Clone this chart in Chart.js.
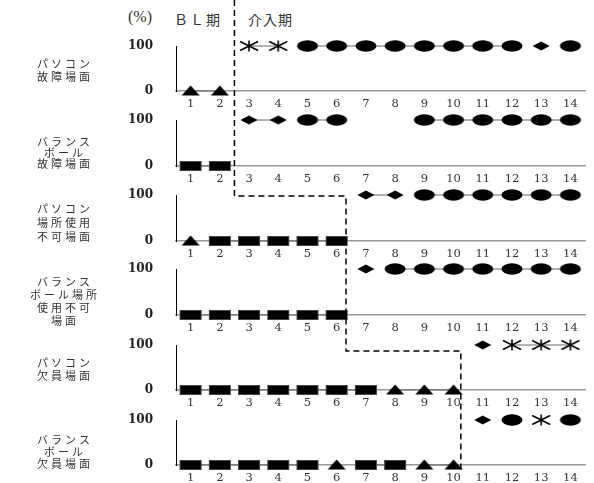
<!DOCTYPE html>
<html>
<head>
<meta charset="utf-8">
<script src="https://cdn.jsdelivr.net/npm/chart.js@4.4.1/dist/chart.umd.min.js"></script>
<style>
  body { margin: 0; width: 594px; height: 483px; background: #fff; position: relative; overflow: hidden; }
  canvas.panel { position: absolute; left: 0; }
  .lbl { position: absolute; width: 130px; text-align: center; font: 11px "Noto Sans CJK JP", sans-serif; letter-spacing: 3px; line-height: 13px; color: #333; }
  .hdr { position: absolute; top: 9px; font: 14px "Noto Sans CJK JP", sans-serif; color: #333; }
  #overlay { position: absolute; left: 0; top: 0; pointer-events: none; }
</style>
</head>
<body>
<div class="hdr" style="left:128px;font-family:'Liberation Serif',serif;font-size:16px;top:8px">(%)</div>
<div class="hdr" style="left:174px;letter-spacing:2px">ＢＬ期</div>
<div class="hdr" style="left:248px;letter-spacing:1px">介入期</div>
<canvas id="overlay" width="594" height="483"></canvas>
<script>
// セッション番号
const sessions = ['1', '2', '3', '4', '5', '6', '7', '8', '9', '10', '11', '12', '13', '14'];
const yTicks = [0, 100];

// 場面名（左側ラベル）
const panelNames = [
  ['パソコン', '故障場面'],
  ['バランス', 'ボール', '故障場面'],
  ['パソコン', '場所使用', '不可場面'],
  ['バランス', 'ボール場所', '使用不可', '場面'],
  ['パソコン', '欠員場面'],
  ['バランス', 'ボール', '欠員場面']
];

// 正反応率 (%)
const pcBreak       = [0, 0, 100, 100, 100, 100, 100, 100, 100, 100, 100, 100, 100, 100];
const ballBreak     = [0, 0, 100, 100, 100, 100, null, null, 100, 100, 100, 100, 100, 100];
const pcPlace       = [0, 0, 0, 0, 0, 0, 100, 100, 100, 100, 100, 100, 100, 100];
const ballPlace     = [0, 0, 0, 0, 0, 0, 100, 100, 100, 100, 100, 100, 100, 100];
const pcAbsent      = [0, 0, 0, 0, 0, 0, 0, 0, 0, 0, 100, 100, 100, 100];
const ballAbsent    = [0, 0, 0, 0, 0, 0, 0, 0, 0, 0, 100, 100, 100, 100];

// プロンプトの種類（マーカー）
const pcBreakMarks    = ['tri', 'tri', 'star', 'star', 'cir', 'cir', 'cir', 'cir', 'cir', 'cir', 'cir', 'cir', 'dia', 'cir'];
const ballBreakMarks  = ['sq', 'sq', 'dia', 'dia', 'cir', 'cir', null, null, 'cir', 'cir', 'cir', 'cir', 'cir', 'cir'];
const pcPlaceMarks    = ['tri', 'sq', 'sq', 'sq', 'sq', 'sq', 'dia', 'dia', 'cir', 'cir', 'cir', 'cir', 'cir', 'cir'];
const ballPlaceMarks  = ['sq', 'sq', 'sq', 'sq', 'sq', 'sq', 'dia', 'cir', 'cir', 'cir', 'cir', 'cir', 'cir', 'cir'];
const pcAbsentMarks   = ['sq', 'sq', 'sq', 'sq', 'sq', 'sq', 'sq', 'tri', 'tri', 'tri', 'dia', 'star', 'star', 'star'];
const ballAbsentMarks = ['sq', 'sq', 'sq', 'sq', 'sq', 'tri', 'sq', 'sq', 'tri', 'tri', 'dia', 'cir', 'star', 'cir'];

// 介入開始の直前のセッション
const phaseAfter = [2, 6, 10];

const panels = [
  { values: pcBreak, marks: pcBreakMarks },
  { values: ballBreak, marks: ballBreakMarks },
  { values: pcPlace, marks: pcPlaceMarks },
  { values: ballPlace, marks: ballPlaceMarks },
  { values: pcAbsent, marks: pcAbsentMarks },
  { values: ballAbsent, marks: ballAbsentMarks }
];

// レイアウト（100 の高さ、0 の高さ）
const panelY = [[46, 91], [120, 166], [195, 241], [269, 315], [345, 390], [420, 465]];
const labelTop = [57, 136, 201, 275, 356, 433];
const labelLine = [13, 11, 14, 13, 13, 12];
const PAD_TOP = 12;
const AXIS_H = 18;

// マーカー画像を作る
function makeMarker(kind) {
  const c = document.createElement('canvas');
  c.width = 24; c.height = 16;
  const g = c.getContext('2d');
  g.fillStyle = '#000';
  g.strokeStyle = '#000';
  switch (kind) {
    case 'cir':
      g.beginPath(); g.ellipse(12, 8, 10.5, 5.8, 0, 0, Math.PI * 2); g.fill();
      break;
    case 'sq':
      g.fillRect(1, 3, 22, 10);
      g.strokeStyle = '#444'; g.lineWidth = 1; g.strokeRect(1.5, 3.5, 21, 9);
      break;
    case 'tri':
      g.beginPath(); g.moveTo(12, 2.5); g.lineTo(21, 12.5); g.lineTo(3, 12.5); g.closePath(); g.fill();
      break;
    case 'dia':
      g.beginPath(); g.moveTo(12, 3.5); g.lineTo(20.5, 8); g.lineTo(12, 12.5); g.lineTo(3.5, 8); g.closePath(); g.fill();
      break;
    case 'star':
      g.lineWidth = 1.6;
      g.beginPath();
      g.moveTo(3, 3.5); g.lineTo(21, 12.5);
      g.moveTo(3, 12.5); g.lineTo(21, 3.5);
      g.moveTo(12, 2.5); g.lineTo(12, 13.5);
      g.stroke();
      break;
  }
  return c;
}
const markerImg = {};
['cir', 'sq', 'tri', 'dia', 'star'].forEach(k => { markerImg[k] = makeMarker(k); });

const charts = [];

panels.forEach((p, i) => {
  const [y100, y0] = panelY[i];
  const canvas = document.createElement('canvas');
  canvas.className = 'panel';
  canvas.width = 594;
  canvas.height = (y0 - y100) + PAD_TOP + AXIS_H;
  canvas.style.top = (y100 - PAD_TOP) + 'px';
  document.body.insertBefore(canvas, document.getElementById('overlay'));

  const lbl = document.createElement('div');
  lbl.className = 'lbl';
  lbl.style.left = '0px';
  lbl.style.top = labelTop[i] + 'px';
  lbl.style.lineHeight = labelLine[i] + 'px';
  lbl.innerHTML = panelNames[i].join('<br>');
  document.body.appendChild(lbl);

  const chart = new Chart(canvas, {
    type: 'line',
    data: {
      labels: sessions,
      datasets: [{
        data: p.values,
        borderColor: '#666',
        borderWidth: 1,
        pointStyle: p.marks.map(m => m ? markerImg[m] : false),
        pointRadius: 8,
        clip: false,
        segment: {
          borderColor: ctx => p.marks[ctx.p0DataIndex] === p.marks[ctx.p1DataIndex] ? '#666' : 'transparent'
        }
      }]
    },
    options: {
      responsive: false,
      animation: false,
      events: [],
      layout: { padding: { top: PAD_TOP, right: 3, left: 0, bottom: 0 } },
      plugins: { legend: { display: false }, tooltip: { enabled: false } },
      scales: {
        x: {
          type: 'category',
          offset: true,
          grid: { display: false, drawTicks: false },
          border: { display: true, color: '#999', width: 1.5 },
          ticks: { color: '#333', font: { family: 'DejaVu Serif', size: 11.5 }, padding: 6, maxRotation: 0, autoSkip: false },
          afterFit: s => { s.height = AXIS_H; }
        },
        y: {
          min: 0, max: 100,
          afterBuildTicks: s => { s.ticks = yTicks.map(v => ({ value: v })); },
          grid: { display: false, drawTicks: false },
          border: { display: true, color: '#000', width: 1 },
          ticks: { color: '#222', font: { family: 'DejaVu Serif', size: 12, weight: 'bold' }, padding: 23 },
          afterFit: s => { s.width = 176; s.paddingTop = 0; s.paddingBottom = 0; }
        }
      }
    }
  });
  charts.push({ chart, top: y100 - PAD_TOP });
});

// 段階変更線（破線）
function drawPhaseLine() {
  const ctx = document.getElementById('overlay').getContext('2d');
  const xs = charts[0].chart.scales.x;
  const px = (session, shift) => xs.getPixelForValue(session - 1 + shift);
  const py = (k, v) => charts[k].top + charts[k].chart.scales.y.getPixelForValue(v);
  const x1 = px(phaseAfter[0], 0.5);
  const x2 = px(phaseAfter[1], 0.32);
  const x3 = px(phaseAfter[2], 0.25);
  const yA = py(2, 100) + 1;
  const yB = py(4, 100) + 6;
  const yEnd = py(5, 0) + 6;
  ctx.strokeStyle = '#000';
  ctx.lineWidth = 1.5;
  ctx.setLineDash([6, 4]);
  ctx.beginPath();
  ctx.moveTo(x1, 0);
  ctx.lineTo(x1, yA);
  ctx.lineTo(x2, yA);
  ctx.lineTo(x2, yB);
  ctx.lineTo(x3, yB);
  ctx.lineTo(x3, yEnd);
  ctx.stroke();
}
drawPhaseLine();
</script>
</body>
</html>
